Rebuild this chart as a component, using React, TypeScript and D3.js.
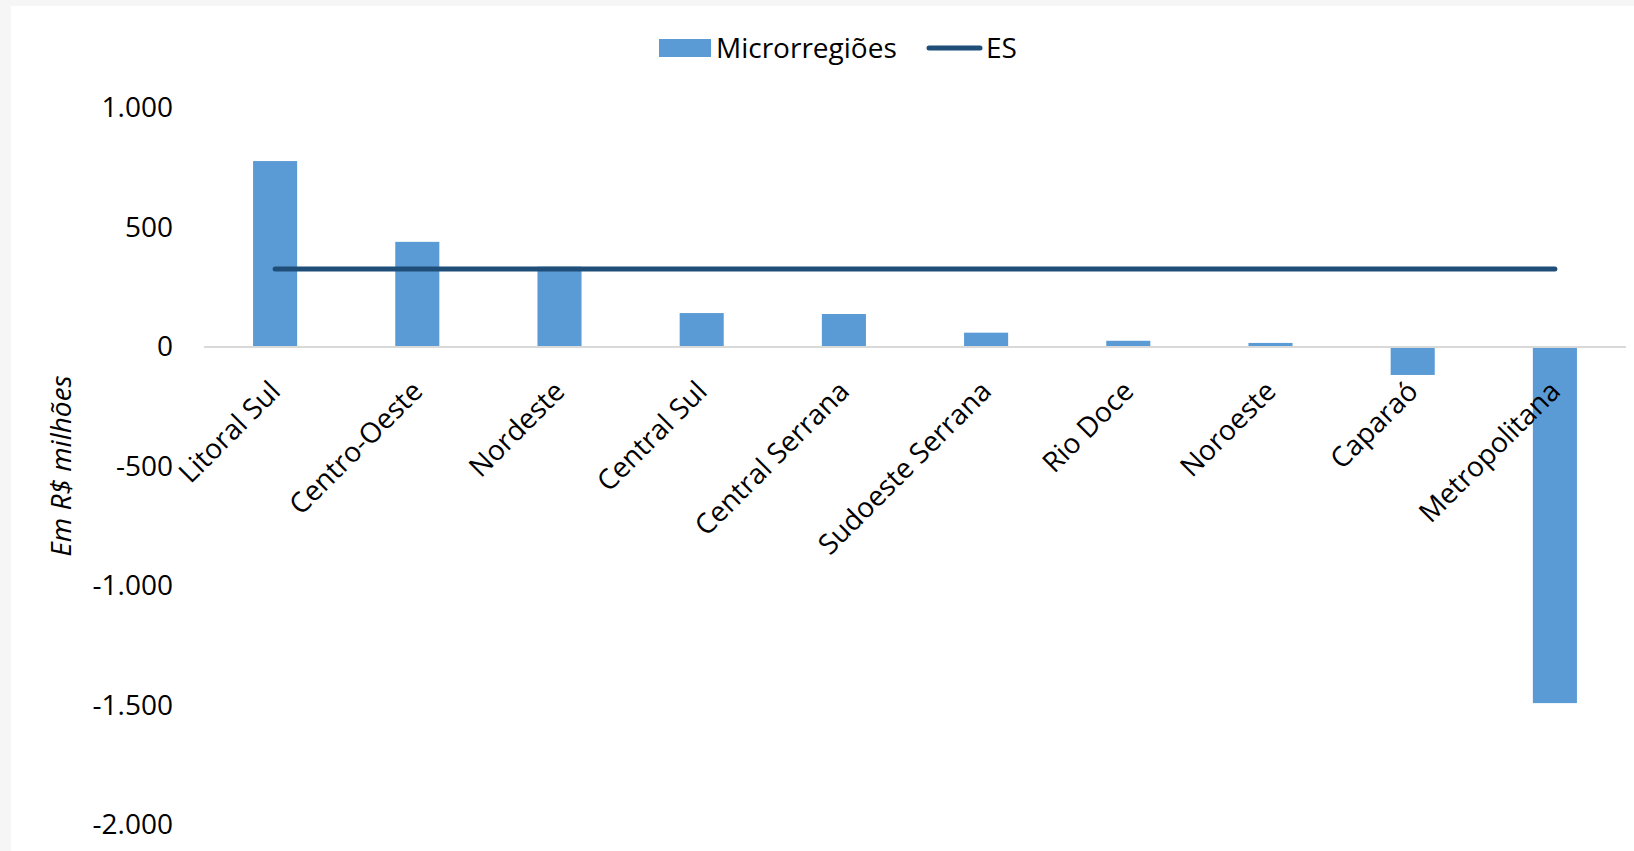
import React, { useEffect, useRef } from 'react'
import * as d3 from 'd3'

// Microrregiões do ES (R$ milhões)
const categories = [
  'Litoral Sul',
  'Centro-Oeste',
  'Nordeste',
  'Central Sul',
  'Central Serrana',
  'Sudoeste Serrana',
  'Rio Doce',
  'Noroeste',
  'Caparaó',
  'Metropolitana',
]
const microValues = [778, 440, 336, 142, 138, 60, 26, 17, -117, -1490]
const esValues = [326, 326, 326, 326, 326, 326, 326, 326, 326, 326]
const yTicks = [1000, 500, 0, -500, -1000, -1500, -2000]

const BAR = '#5B9BD5'
const LINE = '#1F4E79'
const FONT = '"Open Sans", sans-serif'

export default function App() {
  const svgRef = useRef<SVGSVGElement | null>(null)

  useEffect(() => {
    if (!svgRef.current) return
    const width = 1634
    const height = 851
    const svg = d3.select(svgRef.current)
    svg.selectAll('*').remove()
    svg.attr('width', width).attr('height', height)

    // frame
    svg.append('rect').attr('width', width).attr('height', height).attr('fill', '#f6f6f6')
    svg.append('rect')
      .attr('x', 11).attr('y', 6)
      .attr('width', width - 11).attr('height', height - 6)
      .attr('fill', '#ffffff')

    const x = d3.scaleBand<string>()
      .domain(categories)
      .range([204, 1626])
      .paddingInner(0.69)
      .paddingOuter(0.345)

    const y = d3.scaleLinear().domain([-2000, 1000]).range([825, 108])

    const locale = d3.formatLocale({
      decimal: ',',
      thousands: '.',
      grouping: [3],
      currency: ['R$', ''],
      minus: '-',
    })
    const fmt = locale.format(',d')

    // y axis labels
    const yAxis = svg.append('g')
      .attr('transform', 'translate(181,0)')
      .call(d3.axisLeft(y).tickValues(yTicks).tickSize(0).tickPadding(8).tickFormat(d => fmt(d as number)))
    yAxis.select('.domain').remove()
    yAxis.selectAll('text')
      .attr('font-family', FONT)
      .attr('font-size', 28)
      .attr('fill', '#000')

    // bars
    svg.append('g')
      .selectAll('rect')
      .data(categories)
      .enter()
      .append('rect')
      .attr('x', d => x(d)!)
      .attr('width', x.bandwidth())
      .attr('y', (d, i) => y(Math.max(0, microValues[i])))
      .attr('height', (d, i) => Math.abs(y(microValues[i]) - y(0)))
      .attr('fill', BAR)

    // zero axis line
    svg.append('line')
      .attr('x1', 204).attr('x2', 1626)
      .attr('y1', y(0)).attr('y2', y(0))
      .attr('stroke', '#d9d9d9')
      .attr('stroke-width', 2)

    // ES line
    const line = d3.line<number>()
      .x((d, i) => x(categories[i])! + x.bandwidth() / 2)
      .y(d => y(d))
    svg.append('path')
      .datum(esValues)
      .attr('d', line)
      .attr('fill', 'none')
      .attr('stroke', LINE)
      .attr('stroke-width', 5)
      .attr('stroke-linecap', 'round')

    // category labels
    svg.append('g')
      .selectAll('text')
      .data(categories)
      .enter()
      .append('text')
      .attr('transform', d => `translate(${x(d)! + x.bandwidth() / 2 + 7},${y(0) + 46}) rotate(-45)`)
      .attr('text-anchor', 'end')
      .attr('font-family', FONT)
      .attr('font-size', 28)
      .attr('fill', '#000')
      .text(d => d)

    // y title
    svg.append('text')
      .attr('transform', 'translate(64,466) rotate(-90)')
      .attr('text-anchor', 'middle')
      .attr('dominant-baseline', 'middle')
      .attr('font-family', FONT)
      .attr('font-style', 'italic')
      .attr('font-size', 28)
      .attr('fill', '#000')
      .text('Em R$ milhões')

    // legend
    const lg = svg.append('g')
    lg.append('rect').attr('x', 659).attr('y', 39).attr('width', 52).attr('height', 18).attr('fill', BAR)
    lg.append('text').attr('x', 716).attr('y', 58)
      .attr('font-family', FONT).attr('font-size', 28).attr('fill', '#000')
      .text('Microrregiões')
    lg.append('line')
      .attr('x1', 929).attr('x2', 980).attr('y1', 48).attr('y2', 48)
      .attr('stroke', LINE).attr('stroke-width', 5).attr('stroke-linecap', 'round')
    lg.append('text').attr('x', 986).attr('y', 58)
      .attr('font-family', FONT).attr('font-size', 28).attr('fill', '#000')
      .text('ES')
  }, [])

  return (
    <div style={{ position: 'absolute', left: 0, top: 0 }}>
      <svg ref={svgRef} style={{ display: 'block' }}></svg>
    </div>
  )
}
